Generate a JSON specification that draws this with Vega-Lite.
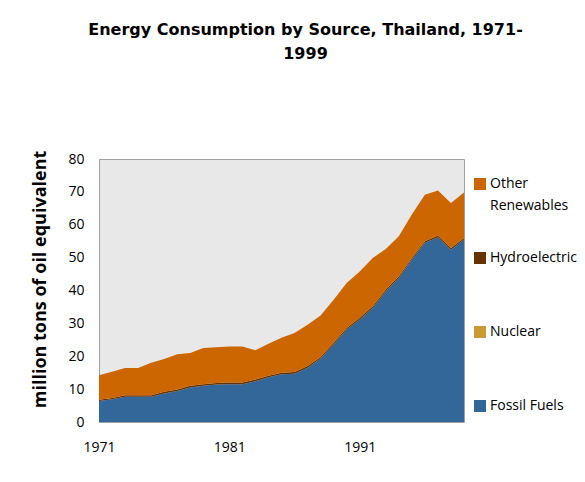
{
  "$schema": "https://vega.github.io/schema/vega-lite/v6.json",
  "width": 365,
  "height": 263,
  "autosize": {"type": "none"},
  "padding": {"left": 99, "top": 159, "right": 121, "bottom": 60},
  "background": "white",
  "title": {
    "text": ["Energy Consumption by Source, Thailand, 1971-", "1999"],
    "font": "DejaVu Sans",
    "fontSize": 16,
    "fontWeight": "bold",
    "color": "#000000",
    "anchor": "middle",
    "dx": 24,
    "offset": 88,
    "lineHeight": 24
  },
  "data": {
    "values": [
      {"year": 1971, "Fossil Fuels": 6.4, "Nuclear": 0, "Hydroelectric": 0.4, "Other Renewables": 7.4},
      {"year": 1972, "Fossil Fuels": 6.9, "Nuclear": 0, "Hydroelectric": 0.4, "Other Renewables": 8.0},
      {"year": 1973, "Fossil Fuels": 7.7, "Nuclear": 0, "Hydroelectric": 0.4, "Other Renewables": 8.3},
      {"year": 1974, "Fossil Fuels": 7.7, "Nuclear": 0, "Hydroelectric": 0.4, "Other Renewables": 8.3},
      {"year": 1975, "Fossil Fuels": 7.7, "Nuclear": 0, "Hydroelectric": 0.4, "Other Renewables": 9.9},
      {"year": 1976, "Fossil Fuels": 8.7, "Nuclear": 0, "Hydroelectric": 0.5, "Other Renewables": 10.0},
      {"year": 1977, "Fossil Fuels": 9.4, "Nuclear": 0, "Hydroelectric": 0.5, "Other Renewables": 10.7},
      {"year": 1978, "Fossil Fuels": 10.5, "Nuclear": 0, "Hydroelectric": 0.5, "Other Renewables": 10.0},
      {"year": 1979, "Fossil Fuels": 11.0, "Nuclear": 0, "Hydroelectric": 0.5, "Other Renewables": 11.0},
      {"year": 1980, "Fossil Fuels": 11.4, "Nuclear": 0, "Hydroelectric": 0.5, "Other Renewables": 10.8},
      {"year": 1981, "Fossil Fuels": 11.5, "Nuclear": 0, "Hydroelectric": 0.5, "Other Renewables": 11.0},
      {"year": 1982, "Fossil Fuels": 11.5, "Nuclear": 0, "Hydroelectric": 0.5, "Other Renewables": 11.0},
      {"year": 1983, "Fossil Fuels": 12.4, "Nuclear": 0, "Hydroelectric": 0.5, "Other Renewables": 8.9},
      {"year": 1984, "Fossil Fuels": 13.6, "Nuclear": 0, "Hydroelectric": 0.5, "Other Renewables": 9.7},
      {"year": 1985, "Fossil Fuels": 14.5, "Nuclear": 0, "Hydroelectric": 0.5, "Other Renewables": 10.6},
      {"year": 1986, "Fossil Fuels": 14.7, "Nuclear": 0, "Hydroelectric": 0.5, "Other Renewables": 11.9},
      {"year": 1987, "Fossil Fuels": 16.5, "Nuclear": 0, "Hydroelectric": 0.5, "Other Renewables": 12.6},
      {"year": 1988, "Fossil Fuels": 19.3, "Nuclear": 0, "Hydroelectric": 0.5, "Other Renewables": 12.6},
      {"year": 1989, "Fossil Fuels": 23.6, "Nuclear": 0, "Hydroelectric": 0.5, "Other Renewables": 13.1},
      {"year": 1990, "Fossil Fuels": 28.1, "Nuclear": 0, "Hydroelectric": 0.5, "Other Renewables": 13.7},
      {"year": 1991, "Fossil Fuels": 31.2, "Nuclear": 0, "Hydroelectric": 0.5, "Other Renewables": 14.1},
      {"year": 1992, "Fossil Fuels": 34.7, "Nuclear": 0, "Hydroelectric": 0.5, "Other Renewables": 14.7},
      {"year": 1993, "Fossil Fuels": 39.8, "Nuclear": 0, "Hydroelectric": 0.5, "Other Renewables": 12.3},
      {"year": 1994, "Fossil Fuels": 43.8, "Nuclear": 0, "Hydroelectric": 0.5, "Other Renewables": 12.2},
      {"year": 1995, "Fossil Fuels": 49.4, "Nuclear": 0, "Hydroelectric": 0.5, "Other Renewables": 13.2},
      {"year": 1996, "Fossil Fuels": 54.5, "Nuclear": 0, "Hydroelectric": 0.5, "Other Renewables": 14.1},
      {"year": 1997, "Fossil Fuels": 56.2, "Nuclear": 0, "Hydroelectric": 0.5, "Other Renewables": 13.7},
      {"year": 1998, "Fossil Fuels": 52.4, "Nuclear": 0, "Hydroelectric": 0.5, "Other Renewables": 13.7},
      {"year": 1999, "Fossil Fuels": 55.5, "Nuclear": 0, "Hydroelectric": 0.5, "Other Renewables": 13.8}
    ]
  },
  "transform": [
    {"fold": ["Fossil Fuels", "Nuclear", "Hydroelectric", "Other Renewables"], "as": ["source", "value"]},
    {"calculate": "indexof(['Fossil Fuels','Nuclear','Hydroelectric','Other Renewables'], datum.source)", "as": "rank"}
  ],
  "mark": {"type": "area", "opacity": 1},
  "encoding": {
    "x": {
      "field": "year",
      "type": "quantitative",
      "scale": {"domain": [1971, 1999], "nice": false, "zero": false},
      "axis": {
        "values": [1971, 1981, 1991],
        "format": "d",
        "title": null,
        "grid": false,
        "ticks": false,
        "tickSize": 0,
        "domain": false,
        "labelFlush": false,
        "labelPadding": 18,
        "labelFontSize": 14,
        "labelFont": "Open Sans",
        "labelColor": "#000000"
      }
    },
    "y": {
      "field": "value",
      "type": "quantitative",
      "stack": "zero",
      "scale": {"domain": [0, 80], "nice": false},
      "axis": {
        "values": [0, 10, 20, 30, 40, 50, 60, 70, 80],
        "title": "million tons of oil equivalent",
        "grid": false,
        "ticks": false,
        "tickSize": 0,
        "domain": false,
        "labelFlush": false,
        "labelPadding": 15,
        "labelFontSize": 14,
        "labelFont": "Open Sans",
        "labelColor": "#000000",
        "titleFont": "Open Sans",
        "titleFontSize": 18,
        "titleFontWeight": "bold",
        "titleColor": "#000000",
        "titleX": -59,
        "titleY": 120,
        "titleAlign": "center",
        "titleBaseline": "middle",
        "titleAngle": -90
      }
    },
    "color": {
      "field": "source",
      "type": "nominal",
      "scale": {
        "domain": ["Other Renewables", "Hydroelectric", "Nuclear", "Fossil Fuels"],
        "range": ["#CC6600", "#663300", "#CC9933", "#336699"]
      },
      "legend": {
        "title": null,
        "orient": "none",
        "legendX": 374,
        "legendY": 18,
        "symbolType": "square",
        "symbolSize": 144,
        "symbolStrokeWidth": 0,
        "symbolOpacity": 1,
        "labelFont": "Open Sans",
        "labelFontSize": 14,
        "labelColor": "#000000",
        "labelLimit": 0,
        "labelOffset": 3,
        "rowPadding": 38,
        "gridAlign": "all",
        "labelExpr": "datum.label == 'Other Renewables' ? ['Other', 'Renewables'] : datum.label",
        "encode": {
          "labels": {
            "update": {
              "lineHeight": {"value": 22}
            }
          }
        }
      }
    },
    "order": {"field": "rank", "type": "quantitative"}
  },
  "config": {
    "view": {"fill": "#E8E8E8", "stroke": "#A0A0A0"}
  }
}
